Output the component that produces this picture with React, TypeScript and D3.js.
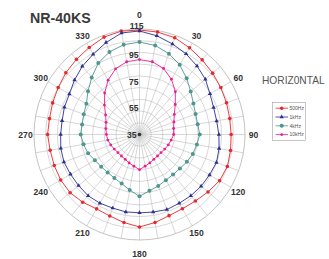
import React from "react";
import * as d3 from "d3";

const angles = d3.range(0, 360, 10);
const angleLabels = [0, 30, 60, 90, 120, 150, 180, 210, 240, 270, 300, 330];
const radialLabels = [35, 55, 75, 95, 115];
const seriesNames = ["500Hz", "1kHz", "4kHz", "10kHz"];

const hz500 = [114.2, 113.9, 113.1, 110.9, 108.9, 107.4, 106.2, 105.2, 104.5, 104.5, 105.1, 105.9, 105.1, 102.8, 100.9, 100.0, 100.5, 102.8, 105.1, 102.8, 100.8, 100.1, 102.0, 103.7, 104.0, 103.8, 103.8, 104.7, 104.3, 105.1, 106.2, 107.9, 109.4, 111.2, 113.6, 114.6];
const hz1k = [113.5, 111.0, 108.1, 105.6, 102.8, 100.2, 96.7, 94.8, 94.4, 95.2, 96.3, 97.1, 96.3, 96.0, 95.6, 95.2, 95.6, 94.7, 94.4, 94.6, 94.4, 95.1, 95.6, 95.3, 95.4, 96.0, 95.6, 94.8, 94.6, 95.6, 96.4, 99.3, 102.5, 105.3, 109.2, 113.2];
const hz4k = [105.1, 103.6, 100.2, 96.0, 90.6, 85.7, 82.2, 80.3, 79.8, 80.7, 79.2, 78.0, 76.5, 75.0, 74.6, 75.0, 76.5, 78.4, 81.9, 77.8, 74.6, 73.1, 72.6, 72.9, 74.1, 76.5, 78.1, 79.6, 79.2, 80.0, 81.5, 86.0, 91.4, 97.5, 101.6, 104.1];
const hz10k = [91.8, 91.0, 88.3, 83.4, 77.3, 70.4, 65.5, 62.8, 61.3, 60.9, 59.4, 58.2, 57.1, 56.3, 56.3, 56.7, 57.9, 59.4, 61.7, 59.4, 57.9, 56.7, 56.3, 56.3, 57.1, 58.2, 59.4, 60.1, 60.9, 62.0, 64.7, 69.7, 76.1, 82.6, 88.0, 91.0];

const W = 329, H = 259;
const cx = 139.5, cy = 134.5, R = 105.5;
const font = "Liberation Sans, Arial, sans-serif";

const colors = ["#e8262c", "#2b2f8f", "#4f9690", "#ec1b8f"];
const seriesData = [hz500, hz1k, hz4k, hz10k];
const markers = ["circle", "triangle", "bigcircle", "smallcircle"];

export default function App() {
  const r = d3.scaleLinear().domain([35, 115]).range([0, R]);
  const rad = (a: number) => (a * Math.PI) / 180;
  const line = d3
    .lineRadial<number>()
    .angle((_, i) => rad(angles[i]))
    .radius((v) => r(v))
    .curve(d3.curveLinearClosed);
  const rings = d3.range(1, 10).map((k) => (R * k) / 9);
  const pos = (a: number, v: number) => [
    cx + r(v) * Math.sin(rad(a)),
    cy - r(v) * Math.cos(rad(a)),
  ];
  const tri = d3.symbol().type(d3.symbolTriangle).size(8)();

  const renderMarker = (m: string, x: number, y: number, c: string, k: string) => {
    if (m === "triangle")
      return <path key={k} d={tri || ""} transform={`translate(${x},${y})`} fill={c} />;
    const rr = m === "bigcircle" ? 2.0 : m === "smallcircle" ? 1.4 : 1.8;
    return <circle key={k} cx={x} cy={y} r={rr} fill={c} />;
  };

  return (
    <svg width={W} height={H} style={{ position: "absolute", left: 0, top: 0, background: "#fff" }}>
      <rect width={W} height={H} fill="#fff" />
      {/* grid */}
      <g fill="none" stroke="#bcbcbc" strokeWidth={0.6}>
        {rings.map((rr, i) => (
          <circle key={i} cx={cx} cy={cy} r={rr} stroke={i === 8 ? "#9a9a9a" : "#bcbcbc"} />
        ))}
        {angles.map((a) => (
          <line
            key={a}
            x1={cx}
            y1={cy}
            x2={cx + R * Math.sin(rad(a))}
            y2={cy - R * Math.cos(rad(a))}
          />
        ))}
      </g>
      <circle cx={cx} cy={cy} r={1.8} fill="#333" />
      {/* series */}
      {seriesData.map((s, si) => (
        <g key={si}>
          <path
            d={line(s) || ""}
            transform={`translate(${cx},${cy})`}
            fill="none"
            stroke={colors[si]}
            strokeWidth={0.9}
          />
          {s.map((v, i) => {
            const [x, y] = pos(angles[i], v);
            return renderMarker(markers[si], x, y, colors[si], `${si}-${i}`);
          })}
        </g>
      ))}
      {/* radial labels */}
      {radialLabels.map((v) => (
        <text
          key={v}
          x={v === 35 ? cx - 3 : v === 115 ? cx + 4 : cx - 1}
          y={cy - r(v) + (v === 115 ? 0 : 3)}
          textAnchor="end"
          fontFamily={font}
          fontWeight="bold"
          fontSize={8.6}
          fill="#333"
        >
          {v}
        </text>
      ))}
      {/* angle labels */}
      {angleLabels.map((a) => {
        const rr = a % 180 === 0 ? 119.5 : 114;
        return (
          <text
            key={a}
            x={cx + rr * Math.sin(rad(a))}
            y={cy - rr * Math.cos(rad(a)) + 3}
            textAnchor="middle"
            fontFamily={font}
            fontWeight="bold"
            fontSize={8.6}
            fill="#333"
          >
            {a}
          </text>
        );
      })}
      {/* title */}
      <text x={30} y={22.5} fontFamily={font} fontWeight="bold" fontSize={14.2} fill="#3a3a3a">
        NR-40KS
      </text>
      <text x={262} y={84} fontFamily={font} fontSize={10.2} fill="#555">
        HORIZ0NTAL
      </text>
      {/* legend */}
      <rect x={272.5} y={102.5} width={33} height={38} fill="#fff" stroke="#a0a0a0" strokeWidth={0.6} />
      {seriesNames.map((n, i) => {
        const y = 108.2 + i * 8.8;
        return (
          <g key={n}>
            <line x1={275.5} x2={288} y1={y} y2={y} stroke={colors[i]} strokeWidth={0.8} />
            {renderMarker(markers[i], 281.7, y, colors[i], `lg${i}`)}
            <text x={289.5} y={y + 1.8} fontFamily={font} fontSize={5} fill="#555">
              {n}
            </text>
          </g>
        );
      })}
    </svg>
  );
}
